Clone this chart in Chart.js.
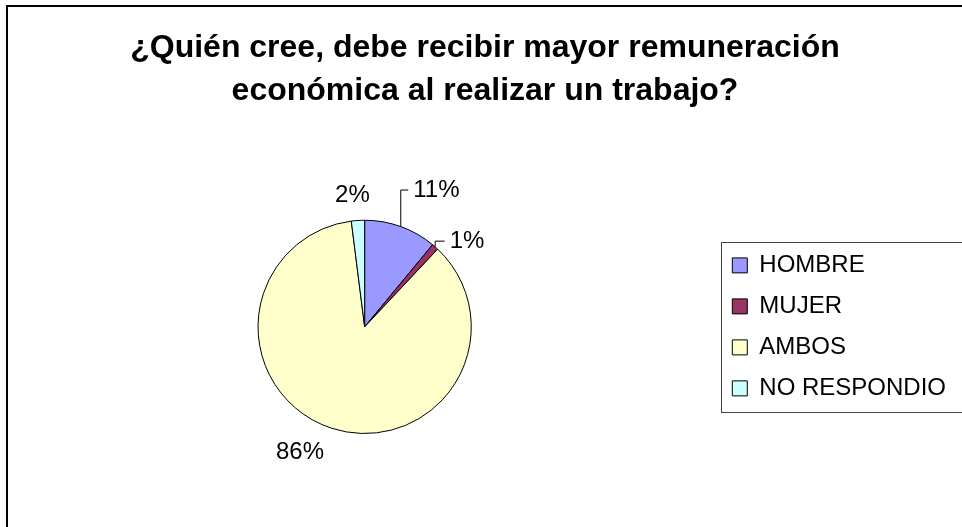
<!DOCTYPE html>
<html>
<head>
<meta charset="utf-8">
<script src="https://cdn.jsdelivr.net/npm/chart.js@4/dist/chart.umd.min.js"></script>
<style>
  html, body { margin: 0; padding: 0; background: #fff; }
</style>
</head>
<body>
<canvas id="chart" width="962" height="527"></canvas>
<script>
const categories = ['HOMBRE', 'MUJER', 'AMBOS', 'NO RESPONDIO']
const percentages = [11, 1, 86, 2]
const sliceColors = ['#9999FF', '#993366', '#FFFFCC', '#CCFFFF']
const titleLines = ['¿Quién cree, debe recibir mayor remuneración', 'económica al realizar un trabajo?']

// how far each value label was dragged from its default spot
const labelNudge = [[4, -13], [-2, 13], [0, 0], [-4, 0]]

const FONT = "'Liberation Sans', Arial, sans-serif"

// white page with the heavy outer frame
const framePlugin = {
    id: 'frame',
    beforeDraw(chart) {
        const ctx = chart.ctx
        ctx.save()
        ctx.fillStyle = '#fff'
        ctx.fillRect(0, 0, chart.width, chart.height)
        ctx.strokeStyle = '#000'
        ctx.lineWidth = 2
        ctx.strokeRect(7, 6, chart.width + 10, chart.height + 10)
        ctx.restore()
    }
}

// percentage labels outside the slices, leader lines for the moved ones
const pctLabels = {
    id: 'pctLabels',
    afterDatasetsDraw(chart) {
        const ctx = chart.ctx
        const meta = chart.getDatasetMeta(0)
        const values = chart.data.datasets[0].data
        const total = values.reduce((a, b) => a + b, 0)
        ctx.save()
        ctx.font = '24px ' + FONT
        ctx.fillStyle = '#000'
        ctx.strokeStyle = '#000'
        ctx.lineWidth = 1
        ctx.textBaseline = 'middle'
        meta.data.forEach((arc, i) => {
            const p = arc.getProps(['x', 'y', 'startAngle', 'endAngle', 'outerRadius'], true)
            const mid = (p.startAngle + p.endAngle) / 2
            const cos = Math.cos(mid), sin = Math.sin(mid)
            const text = Math.round(values[i] / total * 100) + '%'
            const w = ctx.measureText(text).width
            let align = 'center'
            if (cos > 0.2) align = 'left'
            else if (cos < -0.2) align = 'right'
            const [dx, dy] = labelNudge[i]
            const tx = p.x + (p.outerRadius + 25) * cos + dx
            const ty = p.y + (p.outerRadius + 25) * sin + dy
            ctx.textAlign = align
            ctx.fillText(text, tx, ty)
            if (Math.hypot(dx, dy) > 8) {
                const ex = p.x + p.outerRadius * cos
                const ey = p.y + p.outerRadius * sin
                let left = tx
                if (align === 'center') left = tx - w / 2
                else if (align === 'right') left = tx - w
                ctx.beginPath()
                ctx.moveTo(ex, ey)
                ctx.lineTo(ex, ty)
                ctx.lineTo(left - 5, ty)
                ctx.stroke()
            }
        })
        ctx.restore()
    }
}

// thin box round the legend, open past the right edge
const legendBox = {
    id: 'legendBox',
    afterDraw(chart) {
        const boxes = chart.legend.legendHitBoxes
        if (!boxes || !boxes.length) return
        const first = boxes[0], last = boxes[boxes.length - 1]
        const ctx = chart.ctx
        ctx.save()
        ctx.strokeStyle = '#444'
        ctx.lineWidth = 1
        ctx.strokeRect(Math.round(first.left) - 10.5, Math.round(first.top) - 10.5,
            chart.width, last.top + last.height - first.top + 23)
        ctx.restore()
    }
}

new Chart(document.querySelector('#chart'), {
    type: 'pie',
    data: {
        labels: categories,
        datasets: [{
            data: percentages,
            backgroundColor: sliceColors,
            borderColor: '#000',
            borderWidth: 1
        }]
    },
    options: {
        responsive: false,
        animation: false,
        layout: { padding: { left: 14, right: 6, top: 0, bottom: 93 } },
        plugins: {
            title: {
                display: true,
                text: titleLines,
                color: '#000',
                font: { family: FONT, size: 32, weight: 'bold', lineHeight: 1.34 },
                padding: { top: 27, bottom: 107 }
            },
            legend: {
                position: 'right',
                fullSize: false,
                labels: {
                    color: '#000',
                    font: { family: FONT, size: 24 },
                    boxWidth: 15,
                    boxHeight: 15,
                    padding: 17
                }
            },
            tooltip: { enabled: false }
        }
    },
    plugins: [framePlugin, pctLabels, legendBox]
})
</script>
</body>
</html>
